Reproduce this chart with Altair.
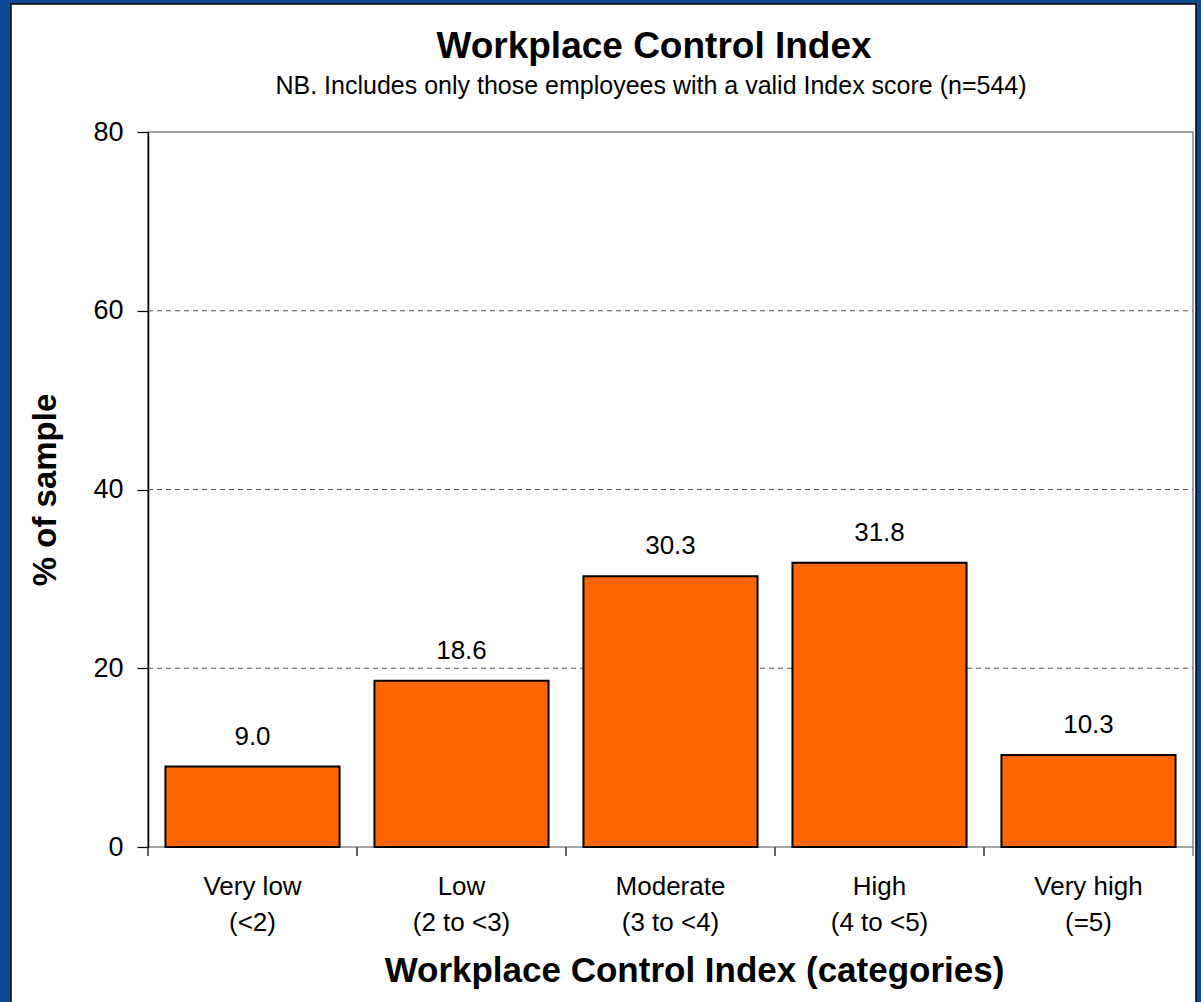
import altair as alt
import pandas as pd

title_text = "Workplace Control Index"
subtitle_text = "NB. Includes only those employees with a valid Index score (n=544)"
categories = ["Very low", "Low", "Moderate", "High", "Very high"]
ranges = ["(<2)", "(2 to <3)", "(3 to <4)", "(4 to <5)", "(=5)"]
values = [9.0, 18.6, 30.3, 31.8, 10.3]
y_ticks = [0, 20, 40, 60, 80]
grid_values = [20, 40, 60]

df = pd.DataFrame({
    "cat": [f"{c}|{r}" for c, r in zip(categories, ranges)],
    "pct": values,
})
order = list(df["cat"])

W, H = 1045, 715
FONT = "Liberation Sans"

xenc = alt.X(
    "cat:N", sort=order,
    scale=alt.Scale(paddingInner=0, paddingOuter=0),
    axis=alt.Axis(
        title="Workplace Control Index (categories)",
        labelExpr="split(datum.label, '|')",
        labelAngle=0, labelFontSize=26, labelColor="black", labelFont=FONT,
        labelLineHeight=36, labelPadding=26, labelBaseline="top",
        ticks=False, domain=False,
        titleFont=FONT, titleFontSize=35, titleFontWeight="bold", titleColor="black",
        titlePadding=18, titleX=546,
    ),
)
yenc = alt.Y(
    "pct:Q",
    scale=alt.Scale(domain=[0, 80], nice=False),
    axis=alt.Axis(
        values=y_ticks, title="% of sample",
        labelFontSize=27, labelColor="black", labelFont=FONT, labelPadding=14,
        tickSize=11, tickColor="black", tickWidth=1.2,
        domainColor="black", domainWidth=1.5,
        grid=False,
        titleFont=FONT, titleFontSize=33, titleFontWeight="bold", titleColor="black",
        titlePadding=30,
    ),
)

base = alt.Chart(df)

grid = alt.Chart(pd.DataFrame({"g": grid_values})).mark_rule(
    color="#555555", strokeWidth=1, strokeDash=[5, 4]
).encode(y="g:Q", x=alt.value(0), x2=alt.value(W))

bars = base.mark_bar(
    width=alt.RelativeBandSize(0.833), color="#FF6600", stroke="black", strokeWidth=2
).encode(x=xenc, y=yenc)

labels = base.mark_text(
    baseline="bottom", dy=-17, fontSize=26, font=FONT, color="black"
).encode(x=alt.X("cat:N", sort=order), y="pct:Q", text=alt.Text("pct:Q", format=".1f"))

ticks0 = base.mark_rule(color="black", strokeWidth=1.2).encode(
    x=alt.X("cat:N", sort=order, bandPosition=0), y=alt.value(H), y2=alt.value(H + 9)
)
ticks1 = base.mark_rule(color="#666666", strokeWidth=1.2).encode(
    x=alt.X("cat:N", sort=order, bandPosition=1), y=alt.value(H), y2=alt.value(H + 9)
)

one = pd.DataFrame({"title": [title_text], "subtitle": [subtitle_text]})
title_mark = alt.Chart(one).mark_text(
    font=FONT, fontSize=37, fontWeight="bold", color="black", baseline="middle"
).encode(text="title:N", x=alt.value(506), y=alt.value(-85))
subtitle_mark = alt.Chart(one).mark_text(
    font=FONT, fontSize=25, color="black", baseline="middle"
).encode(text="subtitle:N", x=alt.value(503), y=alt.value(-46))

blue = alt.Chart(one).mark_rect(
    fillOpacity=0, stroke="#0a4a90", strokeWidth=22
).encode(x=alt.value(-148), x2=alt.value(1059), y=alt.value(-139), y2=alt.value(900))
black = alt.Chart(one).mark_rect(
    fillOpacity=0, stroke="black", strokeWidth=1.5
).encode(x=alt.value(-137), x2=alt.value(1048), y=alt.value(-128), y2=alt.value(880))

chart = alt.layer(
    grid, bars, labels, ticks0, ticks1, title_mark, subtitle_mark, blue, black
).properties(
    width=W, height=H,
    autosize=alt.AutoSizeParams(type="none"),
    padding={"left": 148, "top": 132, "right": 8, "bottom": 155},
    background="white",
).configure_view(stroke="#888888", strokeWidth=1.5)

chart.save("out.html", embed_options={"renderer": "svg", "actions": False})
